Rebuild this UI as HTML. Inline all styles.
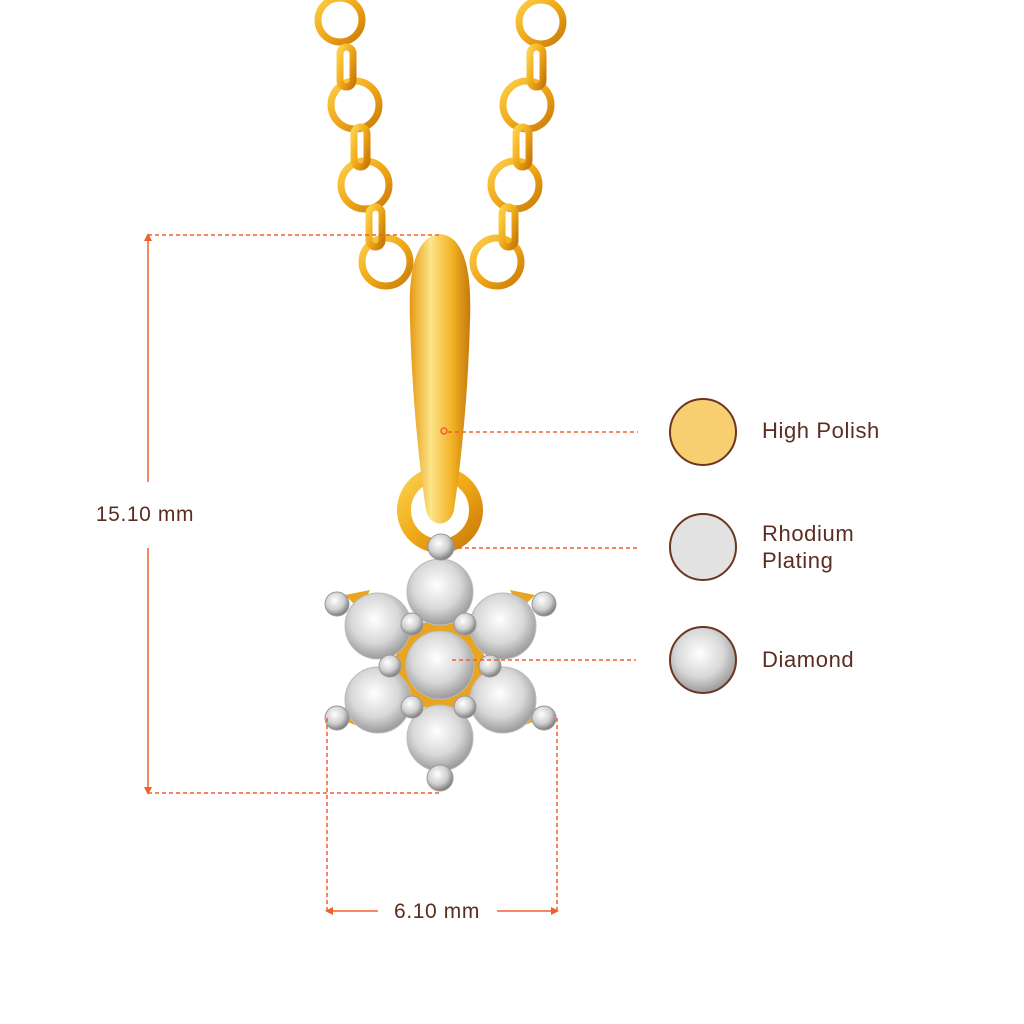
<!DOCTYPE html>
<html><head><meta charset="utf-8"><style>
html,body{margin:0;padding:0;background:#fff}
svg{display:block}
text{font-family:"Liberation Sans",sans-serif;fill:#5b2d22;letter-spacing:0.6px}
</style></head><body>
<svg width="1024" height="1024" viewBox="0 0 1024 1024" xmlns="http://www.w3.org/2000/svg">
<defs>
<linearGradient id="g" x1="0" y1="0" x2="1" y2="1">
<stop offset="0" stop-color="#fbd04a"/><stop offset="0.5" stop-color="#f0a818"/><stop offset="1" stop-color="#c97a08"/>
</linearGradient>
<linearGradient id="bail" x1="0" y1="0" x2="1" y2="0">
<stop offset="0" stop-color="#e59a10"/><stop offset="0.35" stop-color="#fde58a"/><stop offset="0.7" stop-color="#f2b225"/><stop offset="1" stop-color="#c47a08"/>
</linearGradient>
<radialGradient id="dia" cx="0.45" cy="0.4" r="0.6">
<stop offset="0" stop-color="#ffffff"/><stop offset="0.6" stop-color="#d8d8d8"/><stop offset="1" stop-color="#9a9a9a"/>
</radialGradient>
<radialGradient id="ball" cx="0.4" cy="0.35" r="0.65">
<stop offset="0" stop-color="#ffffff"/><stop offset="0.6" stop-color="#cfcfcf"/><stop offset="1" stop-color="#7d7d7d"/>
</radialGradient>
</defs>
<g fill="none" stroke="url(#g)" stroke-width="7">
<circle cx="340" cy="20" r="22"/><circle cx="355" cy="105" r="24"/><circle cx="365" cy="185" r="24"/><circle cx="386" cy="262" r="24"/>
<circle cx="541" cy="22" r="22"/><circle cx="527" cy="105" r="24"/><circle cx="515" cy="185" r="24"/><circle cx="497" cy="262" r="24"/>
<rect x="340" y="47" width="13" height="40" rx="6.5"/><rect x="354" y="127" width="13" height="40" rx="6.5"/><rect x="369" y="207" width="13" height="40" rx="6.5"/>
<rect x="530" y="47" width="13" height="40" rx="6.5"/><rect x="516" y="127" width="13" height="40" rx="6.5"/><rect x="502" y="207" width="13" height="40" rx="6.5"/>
</g>
<circle cx="440" cy="510" r="36" fill="none" stroke="url(#g)" stroke-width="14"/>
<path d="M440 234 C464 236 472 270 470 320 C468 400 460 470 454 510 C450 528 430 528 426 510 C420 470 412 400 410 320 C408 270 416 236 440 234 Z" fill="url(#bail)"/>
<g fill="#e9a520">
<path d="M345 595 L370 590 L360 610 Z"/><path d="M535 595 L510 590 L520 610 Z"/>
<path d="M330 715 L360 700 L355 725 Z"/><path d="M550 715 L520 700 L525 725 Z"/>
<circle cx="440" cy="665" r="45"/>
</g>
<g fill="url(#dia)" stroke="#bbb" stroke-width="1">
<circle cx="440" cy="592" r="33"/><circle cx="378" cy="626" r="33"/><circle cx="503" cy="626" r="33"/>
<circle cx="378" cy="700" r="33"/><circle cx="503" cy="700" r="33"/><circle cx="440" cy="738" r="33"/>
<circle cx="440" cy="665" r="34"/>
</g>
<g fill="url(#ball)" stroke="#999" stroke-width="1">
<circle cx="441" cy="547" r="13"/><circle cx="440" cy="778" r="13"/>
<circle cx="337" cy="604" r="12"/><circle cx="544" cy="604" r="12"/><circle cx="337" cy="718" r="12"/><circle cx="544" cy="718" r="12"/>
<circle cx="412" cy="624" r="11"/><circle cx="465" cy="624" r="11"/><circle cx="390" cy="666" r="11"/><circle cx="490" cy="666" r="11"/>
<circle cx="412" cy="707" r="11"/><circle cx="465" cy="707" r="11"/>
</g>
<g stroke="#f2602a" stroke-width="1.5" fill="none">
<g stroke-dasharray="4 3">
<line x1="148" y1="235" x2="440" y2="235"/><line x1="148" y1="793" x2="440" y2="793"/>
<line x1="327" y1="718" x2="327" y2="911"/><line x1="557" y1="718" x2="557" y2="911"/>
<line x1="448" y1="432" x2="638" y2="432"/><line x1="458" y1="548" x2="638" y2="548"/><line x1="452" y1="660" x2="636" y2="660"/>
</g>
<circle cx="444" cy="431" r="3"/>
<line x1="148" y1="238" x2="148" y2="482"/><line x1="148" y1="548" x2="148" y2="790"/>
<line x1="330" y1="911" x2="378" y2="911"/><line x1="497" y1="911" x2="554" y2="911"/>
</g>
<g fill="#f2602a">
<path d="M148 233 L144 241 L152 241 Z"/><path d="M148 795 L144 787 L152 787 Z"/>
<path d="M325 911 L333 907 L333 915 Z"/><path d="M559 911 L551 907 L551 915 Z"/>
</g>
<text x="145" y="521" font-size="21" text-anchor="middle">15.10 mm</text>
<text x="437" y="918" font-size="21" text-anchor="middle">6.10 mm</text>
<circle cx="703" cy="432" r="33" fill="#f7ce70" stroke="#6b3620" stroke-width="2"/>
<circle cx="703" cy="547" r="33" fill="#e2e2e2" stroke="#6b3620" stroke-width="2"/>
<circle cx="703" cy="660" r="33" fill="url(#dia)" stroke="#6b3620" stroke-width="2"/>
<text x="762" y="438" font-size="22">High Polish</text>
<text x="762" y="541" font-size="22">Rhodium</text>
<text x="762" y="568" font-size="22">Plating</text>
<text x="762" y="667" font-size="22">Diamond</text>
</svg>
</body></html>
